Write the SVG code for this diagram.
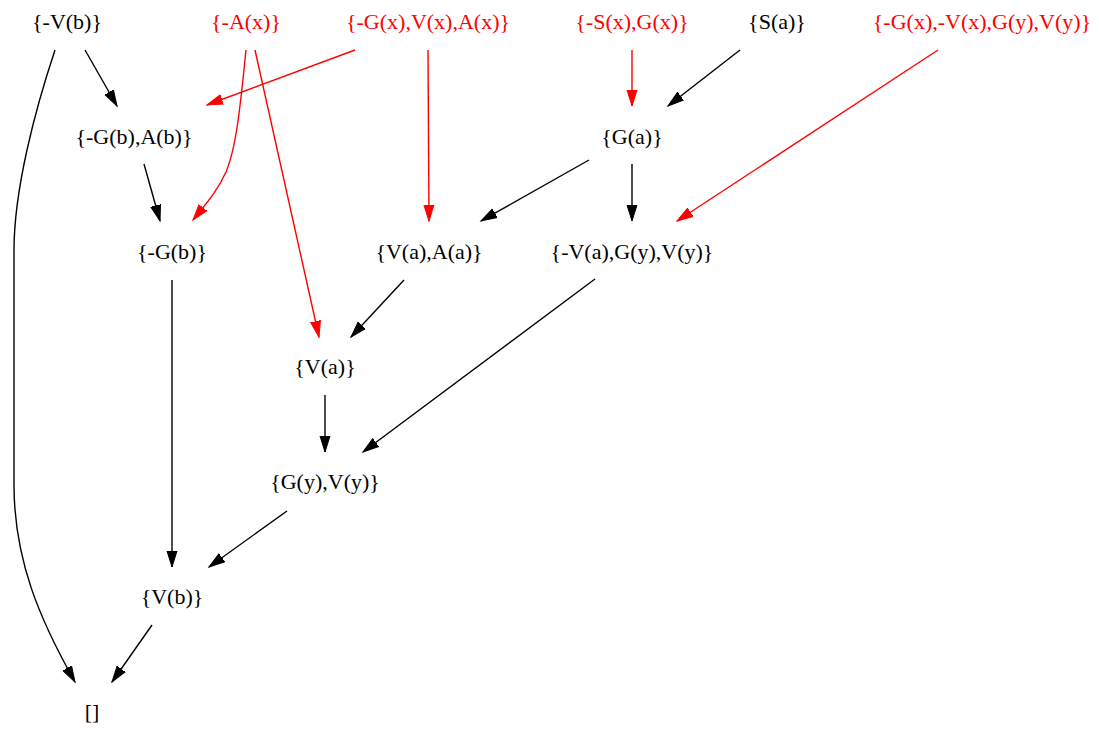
<svg xmlns="http://www.w3.org/2000/svg" width="1099" height="730" viewBox="0 0 1099 730">
<style>
text{font-family:"Liberation Serif","Times New Roman",serif;font-size:22px;text-anchor:middle;fill:#000}
text.r{fill:#ff0000}
.e{fill:none;stroke:#000;stroke-width:1.4;marker-end:url(#ab)}
.e.r{stroke:#ff0000;marker-end:url(#ar)}
</style>
<defs>
<marker id="ab" markerUnits="userSpaceOnUse" markerWidth="18" markerHeight="12" viewBox="0 -6 18 12" refX="16" refY="0" orient="auto"><path d="M0,-5 L16,0 L0,5 z" fill="#000" stroke="#000" stroke-width="1"/></marker>
<marker id="ar" markerUnits="userSpaceOnUse" markerWidth="18" markerHeight="12" viewBox="0 -6 18 12" refX="16" refY="0" orient="auto"><path d="M0,-5 L16,0 L0,5 z" fill="#ff0000" stroke="#ff0000" stroke-width="1"/></marker>
</defs>
<rect width="1099" height="730" fill="#fff"/>
<g id="edges">
<path class="e" d="M85,50 L117,106"/>
<path class="e" d="M55,50 C35,110 14,190 14,250 L14,485 C14,560 40,620 75,682"/>
<path class="e r" d="M246,50 C240,110 236,148 226,172 C217,192 205,205 193,220"/>
<path class="e r" d="M255,50 L319,337"/>
<path class="e r" d="M355,50 L207,105"/>
<path class="e r" d="M428,50 L429,221"/>
<path class="e r" d="M632,50 L632,106"/>
<path class="e" d="M740,50 L668,106"/>
<path class="e r" d="M938,50 L677,221"/>
<path class="e" d="M144,164 L160,221"/>
<path class="e" d="M589,160 L481,221"/>
<path class="e" d="M632,164 L632,221"/>
<path class="e" d="M404,280 L351,337"/>
<path class="e" d="M595,279 L363,452"/>
<path class="e" d="M325,395 L325,452"/>
<path class="e" d="M172,280 L172,567"/>
<path class="e" d="M287,511 L209,567"/>
<path class="e" d="M152,625 L112,682"/>
</g>
<g id="n1"><text x="67" y="29">{-V(b)}</text></g>
<g id="n2"><text class="r" x="246" y="29">{-A(x)}</text></g>
<g id="n3"><text class="r" x="428" y="29">{-G(x),V(x),A(x)}</text></g>
<g id="n4"><text class="r" x="632" y="29">{-S(x),G(x)}</text></g>
<g id="n5"><text x="777" y="29">{S(a)}</text></g>
<g id="n6"><text class="r" x="982" y="29">{-G(x),-V(x),G(y),V(y)}</text></g>
<g id="n7"><text x="134" y="144">{-G(b),A(b)}</text></g>
<g id="n8"><text x="632" y="144">{G(a)}</text></g>
<g id="n9"><text x="172" y="259">{-G(b)}</text></g>
<g id="n10"><text x="429" y="259">{V(a),A(a)}</text></g>
<g id="n11"><text x="632" y="259">{-V(a),G(y),V(y)}</text></g>
<g id="n12"><text x="325" y="374">{V(a)}</text></g>
<g id="n13"><text x="325" y="489">{G(y),V(y)}</text></g>
<g id="n14"><text x="172" y="604">{V(b)}</text></g>
<g id="n15"><text x="92" y="719">[]</text></g>
</svg>
